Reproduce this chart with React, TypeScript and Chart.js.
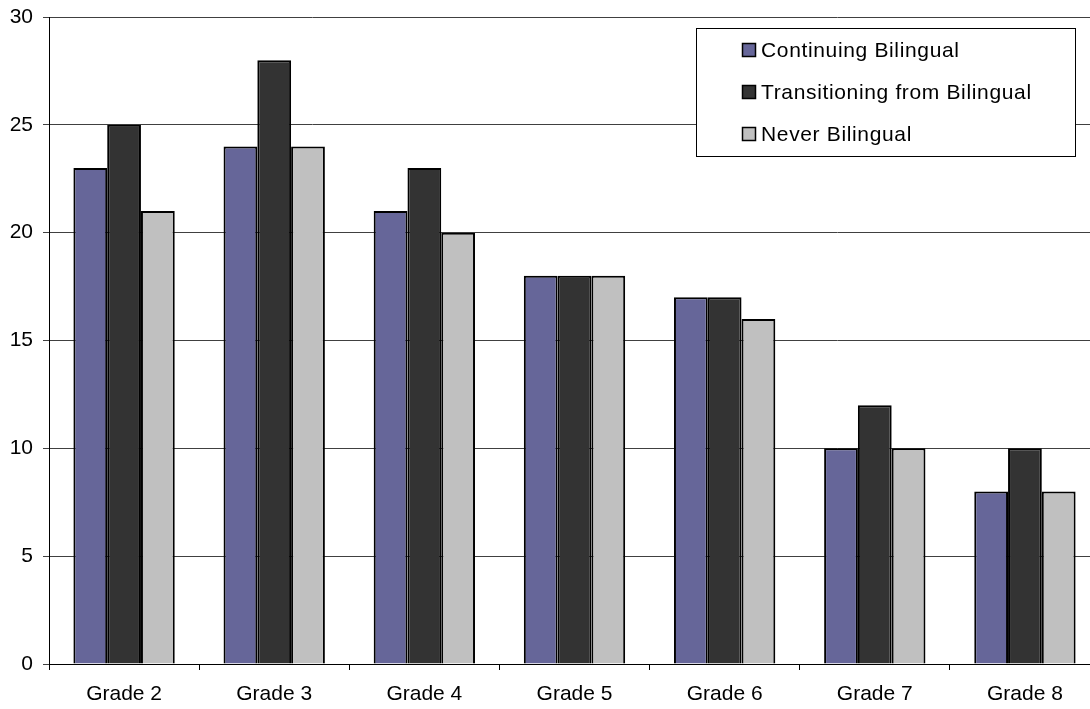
import React, { useEffect, useRef } from "react";
import { Chart, registerables } from "chart.js";

Chart.register(...registerables);

const categories = ["Grade 2", "Grade 3", "Grade 4", "Grade 5", "Grade 6", "Grade 7", "Grade 8"];
const continuing = [23, 24, 21, 18, 17, 10, 8];
const transitioning = [25, 28, 23, 18, 17, 12, 10];
const never = [21, 24, 20, 18, 16, 10, 8];
const seriesNames = ["Continuing Bilingual", "Transitioning from Bilingual", "Never Bilingual"];
const seriesColors = ["#666699", "#333333", "#C0C0C0"];

const FONT = "'Liberation Sans', Arial, sans-serif";

const boxLegend = {
  id: "boxLegend",
  afterDraw(chart: any) {
    const ctx = chart.ctx;
    const x = 696, y = 28, w = 379, h = 128;
    ctx.save();
    ctx.fillStyle = "#ffffff";
    ctx.fillRect(x, y, w, h);
    ctx.strokeStyle = "#000000";
    ctx.lineWidth = 1;
    ctx.strokeRect(x + 0.5, y + 0.5, w, h);
    ctx.font = "21px " + FONT;
    try {
      (ctx as any).letterSpacing = "0.65px";
    } catch (e) {}
    ctx.textBaseline = "middle";
    chart.data.datasets.forEach((ds: any, i: number) => {
      const cy = 50 + i * 42;
      ctx.fillStyle = ds.backgroundColor;
      ctx.fillRect(742, cy - 7, 14, 14);
      ctx.strokeStyle = "#000";
      ctx.lineWidth = 1.5;
      ctx.strokeRect(742.5, cy - 6.5, 13, 13);
      ctx.fillStyle = "#000";
      ctx.fillText(ds.label, 761, cy + 1);
    });
    ctx.restore();
  },
};

export default function App() {
  const ref = useRef<HTMLCanvasElement>(null);
  useEffect(() => {
    const values = [continuing, transitioning, never];
    const chart = new Chart(ref.current!, {
      type: "bar",
      data: {
        labels: categories,
        datasets: seriesNames.map((name, i) => ({
          label: name,
          data: values[i],
          backgroundColor: seriesColors[i],
          borderColor: "#000000",
          borderWidth: 2,
          categoryPercentage: 0.675,
          barPercentage: 1,
        })),
      },
      options: {
        animation: false,
        responsive: false,
        maintainAspectRatio: false,
        layout: { padding: { top: 17, right: 0, left: 0, bottom: 0 } },
        plugins: { legend: { display: false }, tooltip: { enabled: false } },
        scales: {
          x: {
            offset: true,
            grid: {
              display: true,
              drawOnChartArea: false,
              drawTicks: true,
              tickLength: 6,
              color: "#000",
              offset: true,
            },
            border: { display: true, color: "#000", width: 1 },
            ticks: { color: "#000", font: { family: FONT, size: 21 }, padding: 12 },
            afterFit(scale: any) {
              scale.height = 45;
              scale.paddingLeft = 0;
              scale.paddingRight = 0;
            },
          },
          y: {
            min: 0,
            max: 30,
            ticks: { stepSize: 5, color: "#000", font: { family: FONT, size: 21 }, padding: 10 },
            grid: { color: "#404040", tickLength: 6, lineWidth: 1 },
            border: { display: true, color: "#000", width: 1 },
            afterFit(scale: any) {
              scale.width = 49;
              scale.paddingTop = 0;
              scale.paddingBottom = 0;
            },
          },
        },
      },
      plugins: [boxLegend],
    });
    return () => chart.destroy();
  }, []);
  return (
    <div style={{ position: "absolute", left: 0, top: 0, width: 1090, height: 709, overflow: "hidden", background: "#fff" }}>
      <canvas ref={ref} width={1100} height={709} style={{ display: "block", width: 1100, height: 709 }} />
    </div>
  );
}
